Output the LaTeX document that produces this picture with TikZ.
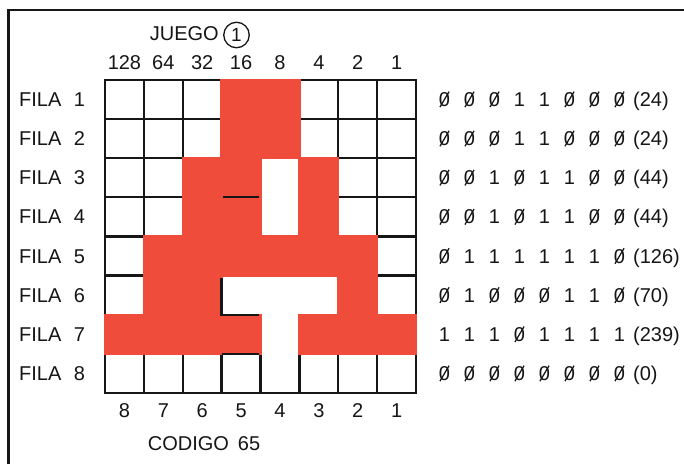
\documentclass[tikz,border=0pt]{standalone}
\usepackage{fontspec}
\setmainfont{Liberation Sans}
\definecolor{redc}{RGB}{239,76,60}
\definecolor{ink}{RGB}{22,22,22}
\tikzset{
  lbl/.style={font=\fontsize{20}{24}\selectfont, text=ink, inner sep=0pt, text height=14.3pt, text depth=0pt},
  gridline/.style={draw=ink, line width=2.3pt, line cap=rect},
  redcell/.style={fill=redc, draw=redc, line width=2.3pt},
  holepatch/.style={fill=white},
  frameline/.style={draw=ink, line width=2.2pt},
  extraline/.style={draw=ink, line width=2.3pt},
  slashline/.style={draw=ink, line width=1.25pt},
  ringnode/.style={draw=ink, circle, line width=1.3pt, minimum size=25.5pt, inner sep=0pt, font=\fontsize{19}{22}\selectfont, text=ink},
}
\begin{document}
\begin{tikzpicture}[x=1pt,y=-1pt]
\useasboundingbox (0,0) rectangle (684,464);
\fill[white] (0,0) rectangle (684,464);
% frame
\coordinate (fbl) at (8.5,464);
\coordinate (ftl) at (8.5,10);
\coordinate (ftr) at (684,10);
\draw[frameline] (fbl) -- (ftl) -- (ftr);
% title
\node[lbl, anchor=east] (juego) at (219,33.5) {JUEGO};
\node[ringnode] (ring) at (236.5,35) {1};
% grid
\begin{scope}[shift={(105,79.8)}, x=38.875pt, y=-39.15pt]
  \foreach \i in {0,...,8} {
    \draw[gridline] (\i,0) -- (\i,8);
    \draw[gridline] (0,\i) -- (8,\i);
  }
  % white areas without inner lines
  \fill[holepatch] (4.03,2.03) rectangle (4.97,3.97);
  \fill[holepatch] (3.03,5.03) rectangle (5.97,5.97);
  \fill[holepatch] (4.03,5.03) rectangle (4.97,7.03);
  % red cells
  \foreach \r/\cols in {0/{3,4},1/{3,4},2/{2,3,5},3/{2,3,5},4/{1,2,3,4,5,6},5/{1,2,6},6/{0,1,2,3,5,6,7}} {
    \foreach \c in \cols {
      \filldraw[redcell] (\c,\r) rectangle ++(1,1);
    }
  }
  % remaining black segments
  \draw[extraline] (3.04,3) -- (3.95,3);
  \draw[extraline] (3.95,6) -- (3,6) -- (3,5.05);
  \draw[extraline] (3,7) -- (3.95,7);
  % column headings and codes
  \foreach \v [count=\i from 0] in {128,64,32,16,8,4,2,1}
    \node[lbl] (head\i) at (\i+0.5,-0.45) {\v};
  \foreach \v [count=\i from 0] in {8,7,6,5,4,3,2,1}
    \node[lbl] (foot\i) at (\i+0.5,8.45) {\v};
\end{scope}
% row labels
\foreach \r in {1,...,8}
  \node[lbl, anchor=west] (fila\r) at (19,{79.8+39.15*(\r-0.5)}) {FILA\hspace{0.62em}\r};
% binary values
\foreach \r/\bits/\val in {1/{0,0,0,1,1,0,0,0}/24, 2/{0,0,0,1,1,0,0,0}/24, 3/{0,0,1,0,1,1,0,0}/44, 4/{0,0,1,0,1,1,0,0}/44, 5/{0,1,1,1,1,1,1,0}/126, 6/{0,1,0,0,0,1,1,0}/70, 7/{1,1,1,0,1,1,1,1}/239, 8/{0,0,0,0,0,0,0,0}/0} {
  \foreach \b [count=\k from 0] in \bits {
    \node[lbl] (bit\r-\k) at ({444.5+25*\k},{79.8+39.15*(\r-0.5)}) {\b};
    \ifnum\b=0
      \draw[slashline] ([xshift=1.2pt,yshift=-0.4pt]bit\r-\k.south west) -- ([xshift=-1.2pt,yshift=0.4pt]bit\r-\k.north east);
    \fi
  }
  \node[lbl, anchor=west] (val\r) at (633,{79.8+39.15*(\r-0.5)}) {(\val)};
}
\node[lbl] (codigo) at (204,443) {CODIGO\hspace{0.45em}65};
\end{tikzpicture}
\end{document}
